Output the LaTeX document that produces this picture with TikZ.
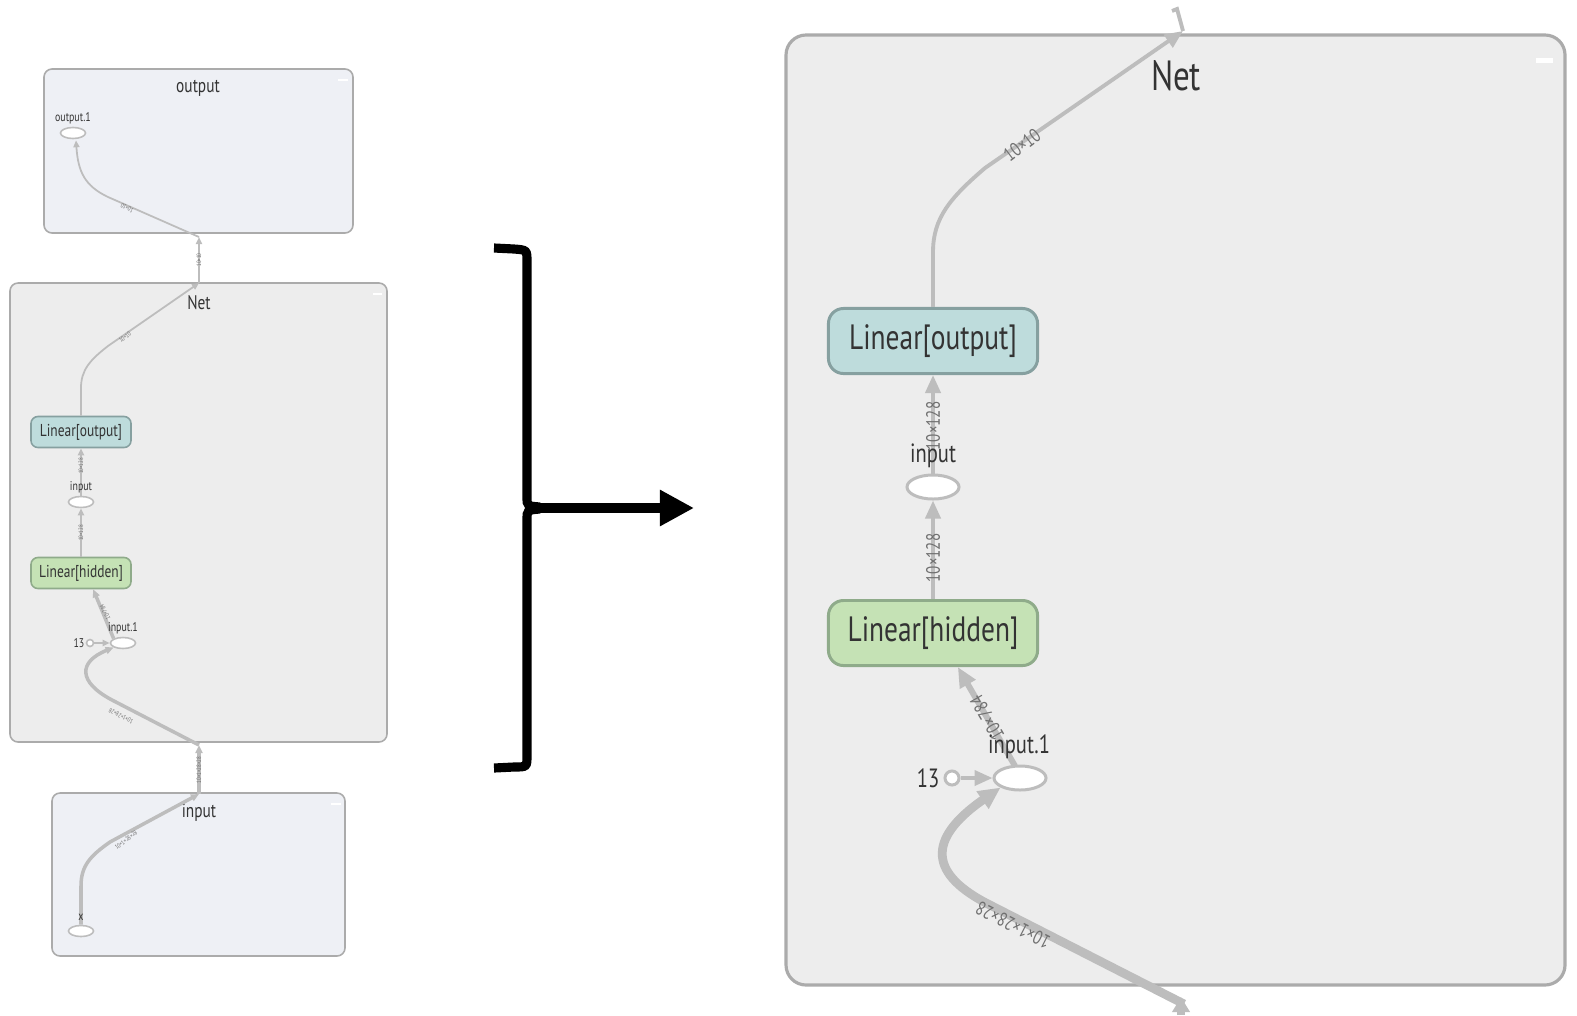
\documentclass[tikz,border=0pt]{standalone}
\usepackage{fontspec}
\setmainfont[FakeStretch=0.78]{PT Sans}
\usetikzlibrary{arrows.meta,shapes.geometric,calc}
\definecolor{edgegray}{HTML}{BDBDBD}
\definecolor{boxborder}{HTML}{ABABAB}
\definecolor{netfill}{HTML}{EDEDED}
\definecolor{grpfill}{HTML}{EEF0F5}
\definecolor{lofill}{HTML}{BEDCDC}
\definecolor{loborder}{HTML}{86A0A0}
\definecolor{lhfill}{HTML}{C5E2B5}
\definecolor{lhborder}{HTML}{8FAB8A}
\definecolor{txt}{HTML}{333333}
\definecolor{elab}{HTML}{707070}
\newcommand{\fsz}[1]{\fontsize{#1}{#1}\selectfont}
\begin{document}
\begin{tikzpicture}[x=0.01cm,y=-0.01cm,
  lgrp/.style={draw=boxborder, rounded corners=0.08cm, line width=0.45pt},
  rgrp/.style={draw=boxborder, rounded corners=0.2cm, line width=0.9pt},
  ttl/.style={inner sep=0pt, text=txt},
  rop/.style={rectangle, rounded corners=0.15cm, minimum width=2.09cm, minimum height=0.65cm, line width=0.85pt, inner sep=0pt, text=txt, font=\fsz{10}},
  lop/.style={rectangle, rounded corners=0.07cm, minimum width=1.0cm, minimum height=0.31cm, line width=0.45pt, inner sep=0pt, text=txt, font=\fsz{4.9}},
  rell/.style={ellipse, draw=edgegray, fill=white, line width=0.85pt, minimum width=0.52cm, minimum height=0.24cm, inner sep=0pt},
  lell/.style={ellipse, draw=edgegray, fill=white, line width=0.45pt, minimum width=0.25cm, minimum height=0.11cm, inner sep=0pt},
  redge/.style={draw=edgegray, line width=1.1pt, -{Triangle[length=0.18cm,width=0.15cm]}},
  redgemid/.style={draw=edgegray, line width=1.7pt, -{Triangle[length=0.2cm,width=0.17cm]}},
  redgebig/.style={draw=edgegray, line width=2.5pt, -{Triangle[length=0.22cm,width=0.2cm]}},
  ledge/.style={draw=edgegray, line width=0.5pt, -{Triangle[length=0.07cm,width=0.06cm]}},
  ledgebig/.style={draw=edgegray, line width=1.0pt, -{Triangle[length=0.08cm,width=0.07cm]}},
  relab/.style={inner sep=0pt, text=elab, font=\fsz{5.5}},
  lelab/.style={inner sep=0pt, text=elab, font=\fsz{1.8}},
  rsm/.style={inner sep=0pt, text=txt, font=\fsz{7.5}},
  lsm/.style={inner sep=0pt, text=txt, font=\fsz{3.6}}
]
\useasboundingbox (0,0) rectangle (1577,1015);

% ================= LEFT =================
\draw[lgrp, fill=grpfill] (44,69) rectangle (353,233);
\draw[lgrp, fill=netfill] (10,283) rectangle (387,742);
\draw[lgrp, fill=grpfill] (52,793) rectangle (345,956);
\fill[white] (338,79) rectangle (348,81);
\fill[white] (373,293) rectangle (382,295);
\fill[white] (331,803) rectangle (341,805);

\node[ttl, font=\fsz{5.6}] (ltout) at (198,88) {output};
\node[ttl, font=\fsz{5.6}] (ltnet) at (199,303) {Net};
\node[ttl, font=\fsz{5.6}] (ltin) at (199,812) {input};

\node[lell] (lout1) at (73,133) {};
\node[lsm] (lout1t) at (73,118) {output.1};
\node[lop, draw=loborder, fill=lofill] (lLO) at (81,432) {Linear[output]};
\node[lell] (lin) at (81,502) {};
\node[lop, draw=lhborder, fill=lhfill] (lLH) at (81,573) {Linear[hidden]};
\node[lell] (lin1) at (123,643) {};
\node[circle, draw=edgegray, fill=white, line width=0.45pt, minimum size=0.07cm, inner sep=0pt] (l13) at (90,643) {};
\node[lsm, anchor=east] (l13t) at (85,643) {13};
\node[lell] (lx) at (81,931) {};

\coordinate (lob) at (199,237);
\coordinate (lnt) at (199,283);
\coordinate (lnb) at (199,745);
\coordinate (lib) at (199,794);

\draw[ledge] (lnt) -- (lob);
\node[lelab, rotate=90] (le1) at (199,260) {10×10};
\draw[ledge] (lob) -- (108,197) .. controls (85,186) and (78,172) .. ($(lout1.south)+(3,1)$);
\node[lelab, rotate=153] (le2) at (127,208) {10×10};
\draw[ledge] (lLO.north) -- (81,388) .. controls (81,370) and (90,360) .. (108,346) -- (lnt);
\node[lelab, rotate=37] (le3) at (125,337) {10×10};
\draw[ledge] (lin.north) -- (lLO.south);
\node[lelab, rotate=90] (le4) at (81,466) {10×128};
\draw[ledge] (lLH.north) -- (lin.south);
\node[lelab, rotate=90] (le5) at (81,533) {10×128};
\draw[ledgebig] (lin1.north west) -- ($(lLH.south west)!0.62!(lLH.south east)$);
\node[lelab, rotate=117] (le6) at (105,612) {10×784};
\draw[ledge] (l13.east) -- (lin1.west);
\draw[ledgebig] (lnb) -- (112,700) .. controls (78,682) and (78,662) .. (lin1.south west);
\node[lelab, rotate=153] (le7) at (121,716) {10×1×28×28};
\draw[ledgebig] (lib) -- (lnb);
\node[lelab, rotate=90] (le8) at (199,770) {10×1×28×28};
\draw[ledgebig] (lx.north) -- (81,886) .. controls (81,866) and (90,856) .. (110,842) -- (lib);
\node[lelab, rotate=38] (le9) at (126,840) {10×1×28×28};
\node[lsm] (lxt) at (81,917) {x};
\node[lsm] (lin1t) at (123,628) {input.1};
\node[lsm] (lint) at (81,487) {input};

% ================= BRACKET =================
\draw[line width=2.6pt, line cap=butt] (494,248) -- (514,249) .. controls (527,250) .. (527,262) -- (527,497) .. controls (527,506) .. (540,507);
\draw[line width=2.6pt] (540,509) .. controls (527,510) .. (527,520) -- (527,755) .. controls (527,767) .. (514,767) -- (494,768);
\coordinate (bfrom) at (535,508);
\coordinate (bto) at (694,508);
\draw[line width=2.6pt, -{Triangle[length=0.34cm,width=0.34cm]}] (bfrom) -- (bto);

% ================= RIGHT =================
\draw[rgrp, fill=netfill] (786,35) rectangle (1565,985);
\fill[white] (1536,58) rectangle (1553,63);
\node[ttl, font=\fsz{12}] (rtnet) at (1176,76) {Net};

\node[rop, draw=loborder, fill=lofill] (rLO) at (933,341) {Linear[output]};
\node[rell] (rin) at (933,487) {};
\node[rop, draw=lhborder, fill=lhfill] (rLH) at (933,633) {Linear[hidden]};
\node[rell] (rin1) at (1020,778) {};
\node[circle, draw=edgegray, fill=white, line width=0.85pt, minimum size=0.14cm, inner sep=0pt] (r13) at (952,778) {};
\node[rsm, anchor=east] (r13t) at (940,778) {13};

\coordinate (rtop) at (1183,31);
\coordinate (rtopout) at (1177,9);
\coordinate (rbot) at (1184,1004);
\coordinate (rbotin) at (1181,1015);
\coordinate (rin1n) at (1015,766);

\draw[draw=edgegray, line width=1.1pt] (rtop) -- (rtopout) -- (1172,11);
\draw[redge] (rLO.north) -- (933,252) .. controls (933,218) and (950,198) .. (985,168) -- (rtop);
\node[relab, rotate=37] (re1) at (1022,145) {10×10};
\draw[redge] (rin.north) -- (rLO.south);
\node[relab, rotate=90] (re2) at (933,426) {10×128};
\draw[redge] (rLH.north) -- (rin.south);
\node[relab, rotate=90] (re3) at (933,558) {10×128};
\draw[redgemid] (rin1n) -- ($(rLH.south west)!0.617!(rLH.south east)$);
\node[relab, rotate=120] (re4) at (987,718) {10×784};
\draw[redge] (r13.east) -- (rin1.west);
\draw[redgebig] (rbot) -- (990,905) .. controls (930,875) and (925,840) .. (rin1.south west);
\node[relab, rotate=153] (re5) at (1013,925) {10×1×28×28};
\draw[draw=edgegray, line width=2.5pt, -{Triangle[length=0.15cm,width=0.17cm]}] (rbotin) -- (1181,997);

\node[rsm] (rint) at (933,456) {input};
\node[rsm] (rin1t) at (1019,747) {input.1};
\end{tikzpicture}
\end{document}
